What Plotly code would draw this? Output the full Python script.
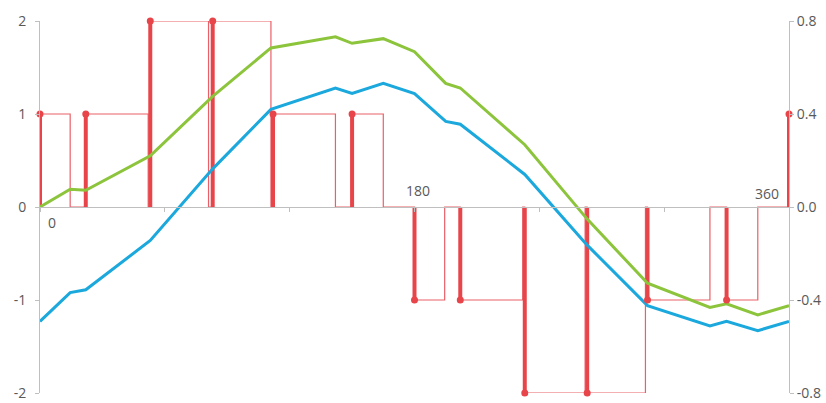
import plotly.graph_objects as go

# Pulse (stem) data: position in degrees, amplitude (left axis units), end of pulse
stem_x = [0, 22, 53, 83, 112, 150, 180, 202, 233, 263, 292, 330, 360]
stem_v = [1, 1, 2, 2, 1, 1, -1, -1, -2, -2, -1, -1, 1]
pulse_end = [14.5, 52, 81, 111, 142, 165, 194.5, 232, 262, 291, 322, 345, None]

# Curves
curve_x = [0, 14.5, 22, 53, 83, 111, 142, 150, 165, 180, 195, 202, 233, 263, 292, 322, 330, 345, 360]
green_y = [0, 0.19, 0.18, 0.55, 1.19, 1.71, 1.83, 1.76, 1.81, 1.67, 1.33, 1.28, 0.67, -0.13, -0.82, -1.08, -1.04, -1.16, -1.06]
blue_y = [-1.23, -0.92, -0.89, -0.36, 0.41, 1.05, 1.28, 1.22, 1.33, 1.22, 0.92, 0.89, 0.35, -0.41, -1.06, -1.28, -1.23, -1.33, -1.23]

left_ticks = [-2, -1, 0, 1, 2]
right_ticks = [-0.8, -0.4, 0.0, 0.4, 0.8]
right_labels = ["-0.8", "-0.4", "0.0", "0.4", "0.8"]
x_ticks = [0, 60, 120, 180, 240, 300, 360]
x_labels = ["0", "180", "360"]

RED = "#E8454A"
RED_THIN = "#EA6068"
GREEN = "#8CC43C"
BLUE = "#1BA8DC"
AXIS = "#BFBFBF"
TXT = "#595959"

# build step polyline
sx, sy = [], []
for p, v, e in zip(stem_x, stem_v, pulse_end):
    sx += [p, p]
    sy += [0, v]
    if e is not None:
        sx += [e, e]
        sy += [v, 0]

# stems
tx, ty = [], []
for p, v in zip(stem_x, stem_v):
    tx += [p, p, None]
    ty += [0, v, None]

fig = go.Figure()
fig.add_trace(go.Scatter(x=sx, y=sy, mode="lines", line=dict(color=RED_THIN, width=1.2),
                         hoverinfo="skip", showlegend=False, cliponaxis=False))
fig.add_trace(go.Scatter(x=tx, y=ty, mode="lines", line=dict(color=RED, width=4),
                         hoverinfo="skip", showlegend=False, cliponaxis=False))
fig.add_trace(go.Scatter(x=curve_x, y=green_y, mode="lines", line=dict(color=GREEN, width=3),
                         showlegend=False))
fig.add_trace(go.Scatter(x=curve_x, y=blue_y, mode="lines", line=dict(color=BLUE, width=3),
                         showlegend=False))
fig.add_trace(go.Scatter(x=stem_x, y=stem_v, mode="markers", marker=dict(color=RED, size=7),
                         showlegend=False, cliponaxis=False))
fig.add_trace(go.Scatter(x=[0], y=[0], yaxis="y2", mode="markers", marker=dict(opacity=0),
                         showlegend=False, hoverinfo="skip"))

fig.update_layout(
    width=826, height=403,
    margin=dict(l=40, r=37, t=21, b=10),
    paper_bgcolor="white", plot_bgcolor="white",
    font=dict(family="Open Sans", size=13, color=TXT),
    xaxis=dict(range=[0, 360], anchor="free", position=0.5, showline=True, linecolor=AXIS,
               linewidth=1, showgrid=False, zeroline=False, tickvals=x_ticks, ticks="outside",
               ticklen=4, tickcolor=AXIS, showticklabels=False, automargin=False),
    yaxis=dict(range=[-2, 2], tickvals=left_ticks, showline=True, linecolor=AXIS, linewidth=1,
               showgrid=False, zeroline=False, ticks="outside", ticklen=4, tickcolor=AXIS,
               ticktext=[str(t) for t in left_ticks], tickfont=dict(size=14, color=TXT),
               automargin=False, ticklabelstandoff=6),
    yaxis2=dict(range=[-0.8, 0.8], overlaying="y", side="right", anchor="x", tickvals=right_ticks,
                ticktext=right_labels, showline=True, linecolor=AXIS, linewidth=1,
                showgrid=False, zeroline=False, ticks="outside", ticklen=4, tickcolor=AXIS,
                tickfont=dict(size=14, color=TXT), automargin=False, ticklabelstandoff=0),
    annotations=[
        dict(x=5.8, y=-0.17, text=x_labels[0], showarrow=False, font=dict(size=14, color=TXT)),
        dict(x=181.5, y=0.18, text=x_labels[1], showarrow=False, font=dict(size=14, color=TXT)),
        dict(x=349.5, y=0.15, text=x_labels[2], showarrow=False, font=dict(size=14, color=TXT)),
    ],
)
fig.write_html("out.html", config={"displayModeBar": False},
               post_script="document.body.style.margin='0';document.body.style.padding='0';document.body.style.overflow='hidden';")
